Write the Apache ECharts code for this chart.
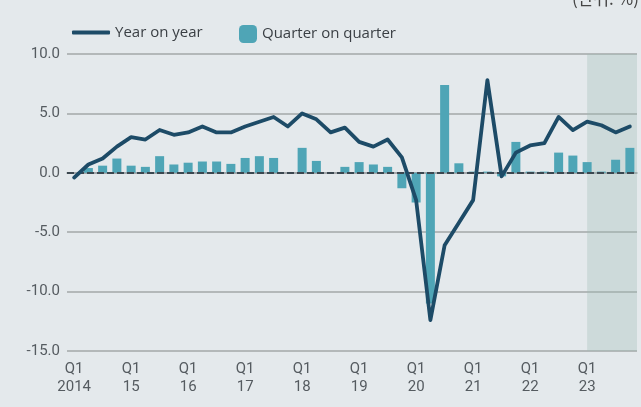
<!DOCTYPE html>
<html>
<head>
<meta charset="utf-8">
<script src="https://cdn.jsdelivr.net/npm/echarts@6/dist/echarts.min.js"></script>
<style>
  html, body { margin: 0; padding: 0; background: #e4e9ec; }
  #chart { width: 641px; height: 407px; }
</style>
</head>
<body>
<div id="chart"></div>
<script>
// Quarters 2014 Q1 .. 2023 Q4
const years = ['2014', '15', '16', '17', '18', '19', '20', '21', '22', '23'];
const quarters = [];
years.forEach(y => { for (let q = 1; q <= 4; q++) quarters.push(y + ' Q' + q); });

// Real GDP growth, %
const yearOnYear = [
  -0.4, 0.7, 1.2, 2.2, 3.0, 2.8, 3.6, 3.2,
   3.4, 3.9, 3.4, 3.4, 3.9, 4.3, 4.7, 3.9,
   5.0, 4.5, 3.4, 3.8, 2.6, 2.2, 2.8, 1.3,
  -2.3, -12.4, -6.1, -4.2, -2.3, 7.8, -0.3, 1.7,
   2.3, 2.5, 4.7, 3.6, 4.3, 4.0, 3.4, 3.9
];
const quarterOnQuarter = [
   0.0, 0.4, 0.6, 1.2, 0.6, 0.5, 1.4, 0.7,
   0.85, 0.95, 0.95, 0.75, 1.25, 1.4, 1.25, 0.0,
   2.1, 1.0, 0.0, 0.5, 0.9, 0.7, 0.5, -1.3,
  -2.5, -11.0, 7.4, 0.8, 0.1, 0.1, -0.3, 2.6,
   0.1, 0.1, 1.7, 1.45, 0.9, 0.1, 1.1, 2.1
];
const yTicks = { min: -15, max: 10, interval: 5 };
const forecastStart = '23 Q1';

const font = 'Roboto, "Noto Sans", sans-serif';
const legendFont = '"Open Sans", "Noto Sans", sans-serif';
const iForecast = quarters.indexOf(forecastStart);

const chart = echarts.init(document.getElementById('chart'), null, { renderer: 'canvas' });

chart.setOption({
  backgroundColor: '#e4e9ec',
  animation: false,
  grid: { left: 67, right: 4, top: 54, bottom: 56 },
  legend: [
    {
      data: [{ name: 'Year on year', icon: 'roundRect' }], left: 67, top: 20,
      itemWidth: 38, itemHeight: 4, itemGap: 8,
      textStyle: { fontFamily: legendFont, fontSize: 15, color: '#3a3f44' }
    },
    {
      data: ['Quarter on quarter'], left: 234, top: 20,
      itemWidth: 18, itemHeight: 18,
      textStyle: { fontFamily: legendFont, fontSize: 15, color: '#3a3f44' }
    }
  ],
  xAxis: [
    {
      type: 'category',
      data: quarters,
      boundaryGap: true,
      axisLine: { lineStyle: { color: '#9ea3a6', width: 1.5 } },
      axisTick: { alignWithLabel: true, interval: 0, length: 3, lineStyle: { color: '#9ea3a6' } },
      axisLabel: {
        interval: 0,
        margin: 9,
        fontFamily: font, fontSize: 15, lineHeight: 18, color: '#555b60',
        formatter: (v) => v.endsWith('Q1') ? 'Q1\n' + v.split(' ')[0] : ''
      },
      splitLine: { show: false }
    },
    {
      // hidden index axis, aligned with the category band centres, for the forecast band
      type: 'value',
      show: false,
      min: -0.5,
      max: quarters.length - 0.5
    }
  ],
  yAxis: {
    type: 'value',
    min: yTicks.min, max: yTicks.max, interval: yTicks.interval,
    axisLine: { show: false },
    axisTick: { show: false },
    axisLabel: {
      margin: 7,
      fontFamily: font, fontSize: 15, color: '#555b60',
      formatter: (v) => v.toFixed(1)
    },
    splitLine: { lineStyle: { color: '#a3a7a9', width: 1.5 } }
  },
  series: [
    {
      name: 'Forecast',
      type: 'line',
      xAxisIndex: 1,
      data: [],
      silent: true,
      z: 1,
      markArea: {
        silent: true,
        itemStyle: { color: 'rgba(160,186,181,0.32)' },
        data: [[
          { xAxis: iForecast, yAxis: yTicks.max },
          { xAxis: quarters.length - 0.5, yAxis: yTicks.min }
        ]]
      }
    },
    {
      name: 'Quarter on quarter',
      type: 'bar',
      data: quarterOnQuarter,
      barWidth: 9,
      itemStyle: { color: '#4fa5b6' },
      z: 2,
      markLine: {
        silent: true,
        symbol: 'none',
        label: { show: false },
        lineStyle: { color: '#3b4750', width: 2, type: [7, 3] },
        data: [{ yAxis: 0 }],
        z: 3
      }
    },
    {
      name: 'Year on year',
      type: 'line',
      data: yearOnYear,
      symbol: 'none',
      lineStyle: { color: '#1d4b67', width: 3.8, join: 'round', cap: 'round' },
      itemStyle: { color: '#1d4b67' },
      z: 4
    }
  ],
  graphic: [
    {
      type: 'text',
      right: 2,
      top: -10,
      style: {
        text: '(단위: %)',
        fontFamily: '"Noto Sans CJK KR", sans-serif',
        fontSize: 17,
        fill: '#444'
      }
    }
  ]
});
</script>
</body>
</html>
